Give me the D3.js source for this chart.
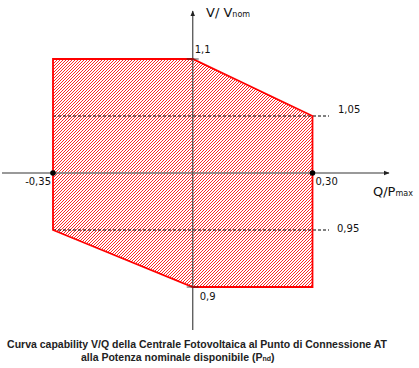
<!DOCTYPE html>
<html>
<head>
<meta charset="utf-8">
<script src="https://cdn.jsdelivr.net/npm/d3@7"></script>
<style>
  body { margin: 0; background: #fff; }
  svg { display: block; }
  .lbl { font-family: "DejaVu Sans", Verdana, sans-serif; font-size: 10px; fill: #111; }
  .cap { font-family: "Liberation Sans", Arial, sans-serif; font-size: 10.5px; font-weight: bold; fill: #222; }
</style>
</head>
<body>
<svg id="chart" width="419" height="368"></svg>
<script>
// capability region vertices (Q/Pmax, V/Vnom)
const regionQ = [-0.35, 0, 0.30, 0.30, 0, -0.35];
const regionV = [1.1, 1.1, 1.05, 0.9, 0.9, 0.95];

// dashed reference levels
const refLevels = [1.05, 0.95];

// marked points on Q axis
const qPoints = [-0.35, 0.30];

// tick labels
const vLabels = [
  { v: 1.1, text: '1,1' },
  { v: 1.05, text: '1,05' },
  { v: 0.95, text: '0,95' },
  { v: 0.9, text: '0,9' }
];
const qLabels = [
  { q: -0.35, text: '-0,35' },
  { q: 0.30, text: '0,30' }
];

const captionLines = [
  'Curva capability V/Q della Centrale Fotovoltaica al Punto di Connessione AT',
  'alla Potenza nominale disponibile (P'
];

const svg = d3.select('#chart');

const x = d3.scaleLinear().domain([-0.35, 0.30]).range([53, 312.5]);
const y = d3.scaleLinear().domain([0.9, 1.1]).range([287, 59]);

// hatch pattern
const defs = svg.append('defs');
const pat = defs.append('pattern')
  .attr('id', 'hatch')
  .attr('patternUnits', 'userSpaceOnUse')
  .attr('width', 3)
  .attr('height', 3);
pat.append('path')
  .attr('d', 'M-1,1 L1,-1 M0,3 L3,0 M2,4 L4,2')
  .attr('stroke', '#ff1a1a')
  .attr('stroke-width', 0.95);

const pts = regionQ.map((q, i) => [x(q), y(regionV[i])]);

svg.append('path')
  .attr('d', d3.line()(pts) + 'Z')
  .attr('fill', 'url(#hatch)')
  .attr('stroke', 'none');

// dashed levels
svg.selectAll('.ref')
  .data(refLevels)
  .enter()
  .append('line')
  .attr('x1', x(-0.35))
  .attr('x2', 329)
  .attr('y1', d => y(d))
  .attr('y2', d => y(d))
  .attr('stroke', '#000')
  .attr('stroke-width', 1)
  .attr('stroke-dasharray', '3,2');

// axes
defs.append('marker')
  .attr('id', 'arr')
  .attr('viewBox', '0 0 10 10')
  .attr('refX', 9)
  .attr('refY', 5)
  .attr('markerWidth', 6)
  .attr('markerHeight', 6)
  .attr('markerUnits', 'userSpaceOnUse')
  .attr('orient', 'auto')
  .append('path')
  .attr('d', 'M0,1 L10,5 L0,9 Z')
  .attr('fill', '#222');

svg.append('line')
  .attr('x1', 2).attr('x2', 389)
  .attr('y1', y(1)).attr('y2', y(1))
  .attr('stroke', '#777')
  .attr('stroke-width', 1.3)
  .attr('marker-end', 'url(#arr)');

svg.append('line')
  .attr('x1', x(0)).attr('x2', x(0))
  .attr('y1', 330).attr('y2', 11)
  .attr('stroke', '#555')
  .attr('stroke-width', 1.3)
  .attr('marker-end', 'url(#arr)');

// region outline
svg.append('path')
  .attr('d', d3.line()(pts) + 'Z')
  .attr('fill', 'none')
  .attr('stroke', '#ff0000')
  .attr('stroke-width', 1.8)
  .attr('stroke-linejoin', 'miter');

// small tick marks at 1.1 and 0.9
svg.selectAll('.vt')
  .data([1.1, 0.9])
  .enter()
  .append('line')
  .attr('x1', x(0) - 6)
  .attr('x2', x(0) + 6)
  .attr('y1', d => y(d))
  .attr('y2', d => y(d))
  .attr('stroke', '#222')
  .attr('stroke-width', 0.8);

// points
svg.selectAll('.pt')
  .data(qPoints)
  .enter()
  .append('circle')
  .attr('cx', d => x(d))
  .attr('cy', y(1))
  .attr('r', 2.8)
  .attr('fill', '#000');

// V labels
const vPos = {
  1.1: [x(0) + 2, y(1.1) - 6, 'start'],
  1.05: [338, y(1.05) - 3, 'start'],
  0.95: [337, y(0.95) + 2, 'start'],
  0.9: [x(0) + 7, y(0.9) + 13, 'start']
};
svg.selectAll('.vl')
  .data(vLabels)
  .enter()
  .append('text')
  .attr('class', 'lbl')
  .attr('x', d => vPos[d.v][0])
  .attr('y', d => vPos[d.v][1])
  .attr('text-anchor', d => vPos[d.v][2])
  .text(d => d.text);

svg.selectAll('.ql')
  .data(qLabels)
  .enter()
  .append('text')
  .attr('class', 'lbl')
  .attr('x', d => (d.q < 0 ? x(d.q) - 2 : x(d.q) + 3))
  .attr('y', y(1) + 12)
  .attr('text-anchor', d => (d.q < 0 ? 'end' : 'start'))
  .text(d => d.text);

// axis titles
const vt = svg.append('text')
  .attr('class', 'lbl')
  .attr('x', 206)
  .attr('y', 17)
  .style('font-size', '13px');
vt.append('tspan').text('V/ V');
vt.append('tspan').style('font-size', '8px').text('nom');

const qt = svg.append('text')
  .attr('class', 'lbl')
  .attr('x', 373)
  .attr('y', 196)
  .style('font-size', '13px');
qt.append('tspan').text('Q/P');
qt.append('tspan').style('font-size', '8px').text('max');

// caption
svg.append('text')
  .attr('class', 'cap')
  .attr('x', 197)
  .attr('y', 348)
  .attr('text-anchor', 'middle')
  .text(captionLines[0]);

const c2 = svg.append('text')
  .attr('class', 'cap')
  .attr('x', 81)
  .attr('y', 361);
c2.append('tspan').text(captionLines[1]);
c2.append('tspan').style('font-size', '7px').text('nd');
c2.append('tspan').text(')');
</script>
</body>
</html>
